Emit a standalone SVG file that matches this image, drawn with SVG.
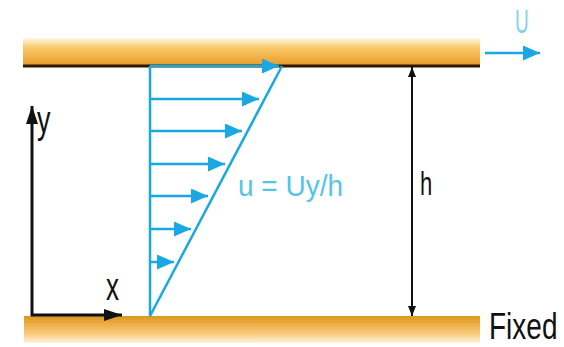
<svg xmlns="http://www.w3.org/2000/svg" width="564" height="347" viewBox="0 0 564 347">
<style>
.blue{stroke:#1aa8e2;stroke-width:2.5;fill:none}
.blk{stroke:#111;stroke-width:3;fill:none}
.dim{stroke:#111;stroke-width:2;fill:none}
.t{font-family:"Liberation Sans",Arial,sans-serif}
</style>
<defs>
<linearGradient id="gTop" x1="0" y1="0" x2="0" y2="1">
<stop offset="0" stop-color="#fff8e2"/>
<stop offset="0.35" stop-color="#f9c86a"/>
<stop offset="0.8" stop-color="#efa93a"/>
<stop offset="1" stop-color="#e49c2a"/>
</linearGradient>
<linearGradient id="gBot" x1="0" y1="0" x2="0" y2="1">
<stop offset="0" stop-color="#d8981f"/>
<stop offset="0.3" stop-color="#efad45"/>
<stop offset="0.7" stop-color="#f8cf86"/>
<stop offset="1" stop-color="#fef3dc"/>
</linearGradient>
<marker id="ab" markerUnits="userSpaceOnUse" markerWidth="17" markerHeight="15" refX="17" refY="7.5" orient="auto">
<path d="M0,0 L17,7.5 L0,15 z" fill="#1aa8e2"/>
</marker>
<marker id="ak" markerUnits="userSpaceOnUse" markerWidth="19" markerHeight="12" refX="18" refY="6" orient="auto">
<path d="M0,0 L18,6 L0,12 z" fill="#111"/>
</marker>
<marker id="ad" markerUnits="userSpaceOnUse" markerWidth="10" markerHeight="8" refX="10" refY="4" orient="auto">
<path d="M0,0 L10,4 L0,8 z" fill="#111"/>
</marker>
</defs>
<rect width="564" height="347" fill="#fff"/>
<g id="top-plate">
<rect x="23" y="38" width="457" height="28" fill="url(#gTop)"/>
<line x1="23" y1="66" x2="480" y2="66" stroke="#2a1a05" stroke-width="3"/>
</g>
<g id="bottom-plate">
<rect x="24" y="316" width="456" height="27" fill="url(#gBot)"/>
</g>
<g id="connectors">
<line class="blue" x1="485" y1="53" x2="540" y2="53" marker-end="url(#ab)"/>
<line class="blue" x1="150" y1="66" x2="150" y2="316"/>
<line class="blue" x1="150" y1="316" x2="282" y2="66"/>
<line class="blue" x1="150" y1="66" x2="279" y2="66" marker-end="url(#ab)"/>
<line class="blue" x1="150" y1="99" x2="259" y2="99" marker-end="url(#ab)"/>
<line class="blue" x1="150" y1="131" x2="242" y2="131" marker-end="url(#ab)"/>
<line class="blue" x1="150" y1="164" x2="225" y2="164" marker-end="url(#ab)"/>
<line class="blue" x1="150" y1="196" x2="208" y2="196" marker-end="url(#ab)"/>
<line class="blue" x1="150" y1="229" x2="191" y2="229" marker-end="url(#ab)"/>
<line class="blue" x1="150" y1="262" x2="174" y2="262" marker-end="url(#ab)"/>
<line class="blk" x1="32" y1="316" x2="32" y2="106" marker-end="url(#ak)"/>
<line class="blk" x1="31" y1="315" x2="122" y2="315" marker-end="url(#ak)"/>
<line class="dim" x1="412" y1="190" x2="412" y2="67" marker-end="url(#ad)"/>
<line class="dim" x1="412" y1="190" x2="412" y2="316" marker-end="url(#ad)"/>
</g>
<g id="labels">
<text class="t" transform="translate(515,33) scale(1,1.75)" font-size="19" fill="#86d0ee">U</text>
<text class="t" transform="translate(37,133) scale(1,1.45)" font-size="27" fill="#111">y</text>
<text class="t" transform="translate(106,300) scale(1,1.48)" font-size="26" fill="#111">x</text>
<text class="t" transform="translate(420,195) scale(1,1.55)" font-size="22" fill="#111">h</text>
<text class="t" transform="translate(238,196) scale(1,1.05)" font-size="28" fill="#55c4ea">u = Uy/h</text>
<text class="t" transform="translate(489,339) scale(1,1.3)" font-size="28" fill="#111">Fixed</text>
</g>
</svg>
